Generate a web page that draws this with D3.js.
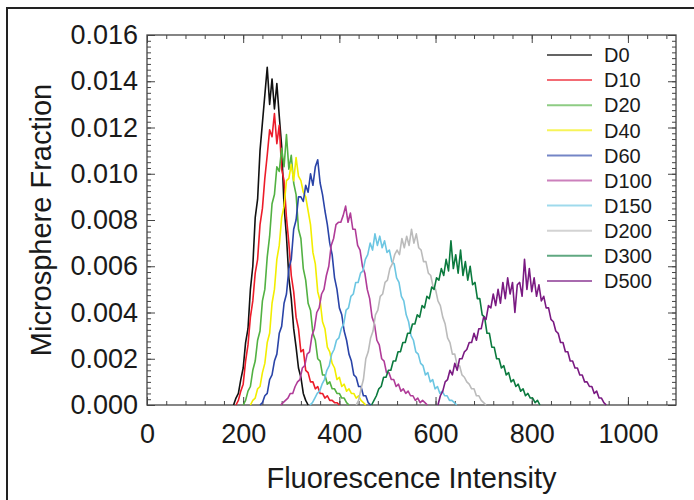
<!DOCTYPE html>
<html>
<head>
<meta charset="utf-8">
<script src="https://cdn.jsdelivr.net/npm/d3@7"></script>
<style>
  html, body { margin: 0; padding: 0; background: #fff; }
  svg { display: block; }
  text { font-family: "Liberation Sans", Arial, Helvetica, sans-serif; fill: #1a1a1a; }
</style>
</head>
<body>
<svg id="chart" width="694" height="500"></svg>
<script>
// ---------- data ----------
const seriesNames = ["D0","D10","D20","D40","D60","D100","D150","D200","D300","D500"];
const seriesColors = ["#111111","#ec1c2a","#52b142","#f2ee00","#2a44a8","#b03c98","#6cc6e2","#bbbbbb","#0b7a3e","#7a1a82"];
const binWidth = 5; // histogram bin spacing (intensity units)
// first bin (intensity) of each series
const seriesStart = [180,185,200,215,235,278,339,435,467,605];

const D0 = [0,0.0003,0.0005,0.0011,0.0016,0.0027,0.0033,0.0050,0.0060,0.0081,0.0089,0.0110,0.0122,0.0134,0.0146,0.0130,0.0141,0.0128,0.0139,0.0125,0.0112,0.0086,0.0073,0.0055,0.0046,0.0033,0.0025,0.0016,0.0012,0.0005,0.0002,0];
const D10 = [0,0.0002,0.0006,0.0009,0.0019,0.0026,0.0038,0.0045,0.0057,0.0063,0.0078,0.0085,0.0098,0.0108,0.0119,0.0116,0.0126,0.0113,0.0121,0.0102,0.0097,0.0081,0.0070,0.0056,0.0049,0.0038,0.0033,0.0023,0.0024,0.0015,0.0014,0.0010,0.0010,0.0007,0.0008,0.0005,0.0005,0.0003,0.0004,0.0002,0.0002,0.0001,0.0001,0];
const D20 = [0,0.0002,0.0006,0.0008,0.0015,0.0019,0.0028,0.0032,0.0045,0.0050,0.0064,0.0073,0.0087,0.0091,0.0103,0.0101,0.0111,0.0103,0.0117,0.0102,0.0108,0.0096,0.0091,0.0076,0.0072,0.0059,0.0054,0.0044,0.0041,0.0031,0.0028,0.0020,0.0019,0.0013,0.0013,0.0009,0.0010,0.0007,0.0007,0.0005,0.0005,0.0003,0.0003,0.0001,0];
const D40 = [0,0.0002,0.0003,0.0007,0.0008,0.0014,0.0018,0.0027,0.0031,0.0044,0.0050,0.0063,0.0069,0.0081,0.0086,0.0097,0.0098,0.0104,0.0097,0.0107,0.0099,0.0097,0.0092,0.0090,0.0084,0.0078,0.0066,0.0061,0.0049,0.0045,0.0036,0.0033,0.0025,0.0023,0.0018,0.0016,0.0011,0.0012,0.0008,0.0009,0.0006,0.0007,0.0005,0.0005,0.0003,0.0004,0.0002,0.0001,0];
const D60 = [0,0.0001,0.0004,0.0005,0.0011,0.0013,0.0019,0.0022,0.0031,0.0034,0.0044,0.0048,0.0059,0.0063,0.0076,0.0080,0.0090,0.0090,0.0088,0.0095,0.0092,0.0100,0.0095,0.0103,0.0106,0.0096,0.0091,0.0084,0.0078,0.0070,0.0065,0.0055,0.0050,0.0042,0.0039,0.0032,0.0028,0.0022,0.0019,0.0013,0.0012,0.0008,0.0008,0.0004,0.0004,0.0001,0];
const D100 = [0,0.0001,0.0002,0.0003,0.0005,0.0005,0.0008,0.0010,0.0011,0.0016,0.0017,0.0022,0.0023,0.0030,0.0033,0.0040,0.0042,0.0048,0.0050,0.0056,0.0060,0.0069,0.0072,0.0078,0.0079,0.0079,0.0082,0.0086,0.0079,0.0083,0.0076,0.0076,0.0069,0.0067,0.0060,0.0057,0.0050,0.0046,0.0038,0.0035,0.0028,0.0026,0.0020,0.0019,0.0014,0.0014,0.0011,0.0011,0.0008,0.0009,0.0006,0.0007,0.0005,0.0006,0.0004,0.0004,0.0002,0.0003,0.0001,0.0002,0.0001,0];
const D150 = [0,0.0001,0.0003,0.0005,0.0006,0.0009,0.0011,0.0015,0.0017,0.0022,0.0024,0.0028,0.0029,0.0033,0.0035,0.0041,0.0042,0.0047,0.0048,0.0053,0.0053,0.0057,0.0058,0.0063,0.0065,0.0070,0.0067,0.0074,0.0069,0.0073,0.0068,0.0071,0.0066,0.0067,0.0062,0.0061,0.0055,0.0053,0.0047,0.0045,0.0039,0.0036,0.0030,0.0028,0.0023,0.0022,0.0018,0.0017,0.0013,0.0014,0.0010,0.0011,0.0007,0.0008,0.0005,0.0006,0.0004,0.0004,0.0002,0.0002,0.0001,0];
const D200 = [0,0.0002,0.0007,0.0011,0.0020,0.0023,0.0029,0.0032,0.0039,0.0041,0.0047,0.0048,0.0053,0.0054,0.0059,0.0061,0.0065,0.0067,0.0065,0.0072,0.0068,0.0073,0.0069,0.0076,0.0070,0.0074,0.0068,0.0067,0.0062,0.0062,0.0057,0.0056,0.0051,0.0050,0.0045,0.0043,0.0038,0.0035,0.0029,0.0027,0.0022,0.0022,0.0017,0.0017,0.0013,0.0012,0.0010,0.0009,0.0007,0.0007,0.0004,0.0004,0.0002,0.0001,0];
const D300 = [0,0.0002,0.0004,0.0007,0.0008,0.0012,0.0012,0.0015,0.0015,0.0019,0.0019,0.0023,0.0023,0.0027,0.0027,0.0031,0.0031,0.0035,0.0035,0.0039,0.0038,0.0043,0.0042,0.0047,0.0046,0.0051,0.0050,0.0055,0.0054,0.0059,0.0056,0.0063,0.0058,0.0071,0.0059,0.0065,0.0057,0.0067,0.0056,0.0062,0.0054,0.0060,0.0052,0.0053,0.0046,0.0046,0.0039,0.0038,0.0031,0.0031,0.0025,0.0025,0.0020,0.0020,0.0016,0.0017,0.0013,0.0014,0.0010,0.0011,0.0008,0.0009,0.0006,0.0007,0.0004,0.0005,0.0003,0.0003,0.0001,0.0002,0];
const D500 = [0,0.0004,0.0006,0.0010,0.0011,0.0015,0.0013,0.0018,0.0015,0.0020,0.0020,0.0023,0.0024,0.0027,0.0027,0.0031,0.0028,0.0033,0.0033,0.0038,0.0037,0.0043,0.0042,0.0048,0.0043,0.0050,0.0044,0.0053,0.0046,0.0055,0.0048,0.0053,0.0040,0.0052,0.0053,0.0047,0.0063,0.0050,0.0059,0.0049,0.0055,0.0047,0.0052,0.0045,0.0047,0.0042,0.0042,0.0037,0.0036,0.0032,0.0031,0.0027,0.0027,0.0023,0.0023,0.0019,0.0019,0.0016,0.0016,0.0013,0.0013,0.0010,0.0010,0.0008,0.0008,0.0005,0.0006,0.0003,0.0003,0.0001,0];
const seriesValues = [D0,D10,D20,D40,D60,D100,D150,D200,D300,D500];

const xTicks = [0,200,400,600,800,1000];
const yTicks = [0,0.002,0.004,0.006,0.008,0.010,0.012,0.014,0.016];
const xLabel = "Fluorescence Intensity";
const yLabel = "Microsphere Fraction";

// ---------- layout ----------
const svg = d3.select("#chart");
const L = 147, R = 676, T = 35, B = 405;
const x = d3.scaleLinear().domain([0, 1100]).range([L, R]);
const y = d3.scaleLinear().domain([0, 0.016]).range([B, T]);

// outer frame (top & left edges visible)
svg.append("path")
  .attr("d", `M7,500 L7,8 L694,8`)
  .attr("fill", "none").attr("stroke", "#222").attr("stroke-width", 2);

// plot box
svg.append("rect")
  .attr("x", L).attr("y", T).attr("width", R - L).attr("height", B - T)
  .attr("fill", "none").attr("stroke", "#444").attr("stroke-width", 1.3);

const xMinor = d3.range(0, 1100, 40);
const yMinor = d3.range(0, 0.01601, 0.00025);

function styleAxis(g) {
  g.select(".domain").remove();
  g.selectAll(".tick line").attr("stroke", "#444").attr("stroke-width", 1);
}
// minor ticks all sides
svg.append("g").attr("transform", `translate(0,${B})`)
  .call(d3.axisBottom(x).tickValues(xMinor).tickSize(-4).tickFormat("")).call(styleAxis);
svg.append("g").attr("transform", `translate(0,${T})`)
  .call(d3.axisTop(x).tickValues(xMinor).tickSize(-4).tickFormat("")).call(styleAxis);
svg.append("g").attr("transform", `translate(${L},0)`)
  .call(d3.axisLeft(y).tickValues(yMinor).tickSize(-4).tickFormat("")).call(styleAxis);
svg.append("g").attr("transform", `translate(${R},0)`)
  .call(d3.axisRight(y).tickValues(yMinor).tickSize(-4).tickFormat("")).call(styleAxis);
// major ticks
const fs = 27;
const gx = svg.append("g").attr("transform", `translate(0,${B})`)
  .call(d3.axisBottom(x).tickValues(xTicks).tickSize(-8).tickPadding(19).tickFormat(d3.format("d")))
  .call(styleAxis);
gx.selectAll("text").style("font-size", fs + "px").style("font-family", "Liberation Sans, Arial, sans-serif").attr("fill", "#1a1a1a");
svg.append("g").attr("transform", `translate(0,${T})`)
  .call(d3.axisTop(x).tickValues(xTicks).tickSize(-8).tickFormat("")).call(styleAxis);
const gy = svg.append("g").attr("transform", `translate(${L},0)`)
  .call(d3.axisLeft(y).tickValues(yTicks).tickSize(-8).tickPadding(9).tickFormat(d3.format(".3f")))
  .call(styleAxis);
gy.selectAll("text").style("font-size", fs + "px").style("font-family", "Liberation Sans, Arial, sans-serif").attr("fill", "#1a1a1a");
svg.append("g").attr("transform", `translate(${R},0)`)
  .call(d3.axisRight(y).tickValues(yTicks).tickSize(-8).tickFormat("")).call(styleAxis);

// axis titles
svg.append("text").attr("x", (L + R) / 2).attr("y", 488).attr("text-anchor", "middle")
  .style("font-size", "29px").text(xLabel);
svg.append("text").attr("transform", `translate(51,${(T + B) / 2}) rotate(-90)`)
  .attr("text-anchor", "middle").style("font-size", "29px").text(yLabel);

// series lines
const line = d3.line().x(d => x(d[0])).y(d => y(d[1]));
const plot = svg.append("g");
seriesValues.forEach((vals, i) => {
  const pts = vals.map((v, j) => [seriesStart[i] + j * binWidth, v]);
  plot.append("path").datum(pts)
    .attr("d", line)
    .attr("fill", "none")
    .attr("stroke", seriesColors[i])
    .attr("stroke-width", 1.6)
    .attr("stroke-linejoin", "round");
});

// legend
const lg = svg.append("g");
seriesNames.forEach((name, i) => {
  const cy = 55 + i * 25.1;
  lg.append("line").attr("x1", 547).attr("x2", 592).attr("y1", cy).attr("y2", cy)
    .attr("stroke", seriesColors[i]).attr("stroke-width", 2).attr("stroke-opacity", 0.65);
  lg.append("text").attr("x", 604).attr("y", cy).attr("dy", "0.36em")
    .style("font-size", "20px").text(name);
});
</script>
</body>
</html>
